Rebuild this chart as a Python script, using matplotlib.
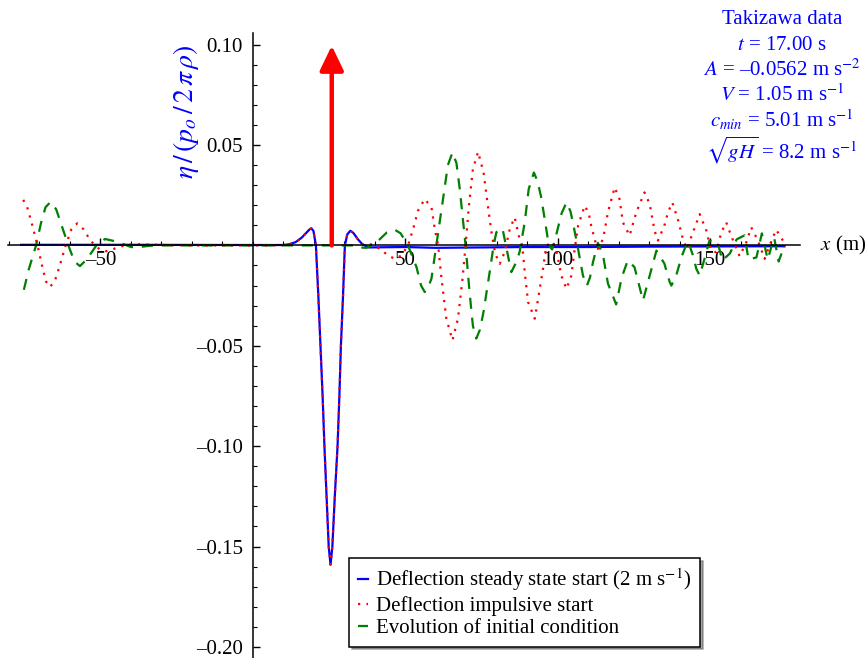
import matplotlib
matplotlib.use("Agg")
import matplotlib.pyplot as plt
from matplotlib.ticker import MultipleLocator, FixedLocator

plt.rcParams['font.family'] = ['Liberation Serif', 'DejaVu Serif']
plt.rcParams['mathtext.fontset'] = 'stix'

# curve shared by blue and red near the load (x, eta)
dip_x = [10, 12, 14, 16, 17.5, 18.5, 19.2, 19.9, 20.7, 21.5, 22.2, 22.9, 23.5, 24.2, 24.9,
         25.5, 26.1, 26.9, 27.8, 28.4, 28.9, 29.6, 30.2, 31, 32, 33, 34.5, 36]
dip_y = [0.0002, 0.0006, 0.0016, 0.0038, 0.0062, 0.0078, 0.0085, 0.0072, 0.0, -0.025, -0.05,
         -0.075, -0.10, -0.125, -0.15, -0.159, -0.15, -0.125, -0.10, -0.075, -0.05, -0.025,
         0.0, 0.0055, 0.0073, 0.0062, 0.003, 0.0005]

# steady state start (blue)
blue_left_x = [-76, -40, 0, 8]
blue_left_y = [0.0003, 0.0003, 0.0002, 0.0002]
blue_right_x = [38, 50, 60, 75, 90, 110, 130, 150, 174.4]
blue_right_y = [-0.001, -0.0008, -0.0012, -0.001, -0.0008, -0.0008, -0.0006, -0.0005, -0.0004]

# impulsive start (red)
red_left_x = [-75.3, -74, -72.5, -70.6, -69, -67.8, -66.6, -65, -63.3, -61.4, -59.5, -57.6,
              -55.5, -53.5, -51.8, -50, -48, -46, -44.2, -41, -37, -30, -20, 8]
red_left_y = [0.0227, 0.019, 0.011, 0.0, -0.011, -0.018, -0.0207, -0.018, -0.01, 0.0, 0.008,
              0.011, 0.008, 0.003, 0.0, -0.0022, -0.0029, -0.002, -0.0009, 0.0004, 0.0006,
              0.0002, 0.0, 0.0]
red_right_x = [37, 39.5, 41.6, 44.4, 46.6, 48.8, 50.9, 52.6, 54.2, 56.4, 58.6, 59.7, 60.8,
               61.9, 63.5, 65.5, 67.3, 68.8, 69.8, 70.9, 72.2, 73.9, 75.7, 77.1, 78.3, 79.5,
               81.0, 82.6, 84.3, 85.9, 87.5, 88.4, 89.2, 90.3, 92.5, 94.1, 95.2, 96.3, 98.5,
               99.6, 101.2, 102.9, 104.5, 105.6, 106.7, 108.9, 110.2, 111, 112.7, 113.2,
               114.9, 116.5, 118.7, 120.3, 121.4, 123.6, 125.8, 128.5, 130.2, 131.8, 132.9,
               135, 136.2, 137.6, 139.4, 141.1, 142.4, 144.4, 146.6, 148.8, 150.4, 152,
               153.7, 155.3, 156.9, 159.7, 161.9, 163.5, 165.7, 167.9, 169.5, 171.7, 173.9,
               174.4]
red_right_y = [0.001, 0.0003, -0.0017, -0.005, -0.0067, -0.005, 0.0, 0.0082, 0.0173, 0.0231,
               0.019, 0.0082, 0.0, -0.0166, -0.0365, -0.0472, -0.0365, -0.0166, 0.0, 0.0198,
               0.038, 0.0466, 0.0363, 0.0198, 0.0066, -0.004, -0.0092, -0.0034, 0.0082, 0.014,
               0.0032, 0.0, -0.0133, -0.0282, -0.0365, -0.0216, -0.0117, 0.0, 0.0016, -0.0026,
               -0.015, -0.0216, -0.015, -0.0017, 0.0098, 0.0198, 0.016, 0.0098, 0.0, -0.0017,
               0.0032, 0.0165, 0.0289, 0.0231, 0.0115, 0.0049, 0.0165, 0.0264, 0.0206, 0.0073,
               0.0024, 0.0098, 0.0165, 0.0214, 0.0132, 0.0032, -0.0017, 0.0066, 0.0156, 0.0073,
               -0.0026, -0.0034, 0.0066, 0.0115, 0.0049, -0.0054, 0.0016, 0.009, 0.0024,
               -0.0067, 0.0, 0.0078, 0.0024, -0.001]

# evolution of initial condition (green)
green_x = [-75.1, -73.5, -71.1, -69.5, -68, -66.3, -64.5, -62.5, -60.5, -58.5, -56.7, -54.5,
           -51.3, -48.5, -45.5, -42.5, -40, -37.6, -34, -30, 0, 33, 34.4, 37.4, 39.5, 41.6,
           44, 46.6, 48.5, 50.9, 53.7, 55.2, 56.4, 57.5, 58.6, 60.2, 62.4, 64, 65.5, 66.8,
           67.9, 69.8, 71.1, 72.2, 73.3, 74.5, 75.7, 77.7, 79.0, 79.9, 81.9, 84.8, 86.2,
           87.5, 89.2, 90.5, 92.2, 93.4, 94.6, 96.1, 97.1, 98.2, 99.6, 101.3, 102.9, 104.2,
           105, 106.7, 108.3, 109.6, 110.6, 111.6, 113.2, 114.9, 116.5, 119.2, 121, 123,
           125.2, 128, 130.2, 132.4, 135, 136.7, 137.3, 138.9, 140.6, 142.7, 144.4, 145.5,
           146.6, 148.3, 149.8, 152.5, 154, 156.5, 158.7, 161.3, 162.6, 165.2, 167, 168.9,
           171, 172.5, 174.4]
green_y = [-0.0221, -0.012, 0.0, 0.011, 0.019, 0.0217, 0.018, 0.009, 0.0, -0.008, -0.0103,
           -0.007, 0.0, 0.0032, 0.0022, 0.0007, -0.0008, -0.0009, -0.0002, 0.0, 0.0, 0.0,
           -0.001, -0.0012, 0.0005, 0.003, 0.0065, 0.0078, 0.006, 0.0, -0.0108, -0.02,
           -0.0232, -0.021, -0.0166, 0.0, 0.0231, 0.040, 0.0463, 0.041, 0.028, 0.0, -0.0232,
           -0.040, -0.0464, -0.042, -0.033, -0.0133, 0.0, 0.0066, 0.0085, -0.0133, -0.009,
           -0.0034, 0.0115, 0.028, 0.0363, 0.032, 0.024, 0.0098, 0.0, -0.002, 0.0057, 0.016,
           0.0214, 0.017, 0.0115, -0.0017, -0.015, -0.02, -0.016, -0.0083, 0.0013, -0.005,
           -0.019, -0.0294, -0.016, -0.0075, -0.0108, -0.0274, -0.015, -0.0026, -0.009,
           -0.018, -0.02, -0.015, -0.0059, 0.0024, -0.005, -0.0117, -0.015, -0.006, 0.0024,
           0.0016, -0.0075, -0.004, 0.003, 0.005, -0.007, -0.006, 0.006, -0.007, 0.004,
           -0.008, 0.0]

load_x = 25.9      # load position (arrow)
load_h = 0.0995

x_major = [-50, 50, 100, 150]
x_labels = ["\u201350", "50", "100", "150"]
y_major = [-0.20, -0.15, -0.10, -0.05, 0.05, 0.10]
y_labels = ["\u20130.20", "\u20130.15", "\u20130.10", "\u20130.05", "0.05", "0.10"]

info_lines = [
    "Takizawa data",
    r"$t$ = 17.00 s",
    "$A$ = \u20130.0562 m s$^{-2}$",
    r"$V$ = 1.05 m s$^{-1}$",
    r"$c_{min}$ = 5.01 m s$^{-1}$",
    r"$\sqrt{gH}$ = 8.2 m s$^{-1}$",
]

legend_labels = [
    r"Deflection steady state start (2 m s$^{-1}$)",
    "Deflection impulsive start",
    "Evolution of initial condition",
]

fig = plt.figure(figsize=(8.66, 6.58), dpi=100)
ax = fig.add_axes([8 / 866, 0, 792 / 866, 625 / 658])

blue_x = blue_left_x + dip_x + blue_right_x
blue_y = blue_left_y + dip_y + blue_right_y
red_x = red_left_x + dip_x + red_right_x
red_y = red_left_y + dip_y + red_right_y

l1, = ax.plot(blue_x, blue_y, color="#0000ff", lw=1.6, zorder=2)
l2, = ax.plot(red_x, red_y, color="#ff0000", lw=1.6, ls=(0, (1, 2.8)), zorder=2.2)
l3, = ax.plot(green_x, green_y, color="#007f00", lw=1.6, ls=(0, (5, 4)), zorder=2.1)

ax.annotate("", xy=(load_x, load_h), xytext=(load_x, 0),
            arrowprops=dict(arrowstyle="-|>,head_length=0.75,head_width=0.36",
                            color="#ff0000", lw=3.2, mutation_scale=20,
                            shrinkA=0, shrinkB=0),
            zorder=5)

ax.set_xlim(-80.3, 179.5)
ax.set_ylim(-0.2055, 0.1058)

for s in ["top", "right"]:
    ax.spines[s].set_visible(False)
ax.spines["left"].set_position(("data", 0))
ax.spines["bottom"].set_position(("data", 0))
ax.spines["left"].set_linewidth(1.1)
ax.spines["bottom"].set_linewidth(1.1)
ax.spines["left"].set_zorder(3)
ax.spines["bottom"].set_zorder(3)

ax.xaxis.set_major_locator(FixedLocator(x_major))
ax.set_xticklabels(x_labels)
ax.xaxis.set_minor_locator(MultipleLocator(10))
ax.yaxis.set_major_locator(FixedLocator(y_major))
ax.set_yticklabels(y_labels)
ax.yaxis.set_minor_locator(MultipleLocator(0.01))

ax.tick_params(which="major", direction="in", length=5, width=1.0, labelsize=15)
ax.tick_params(which="minor", direction="in", length=3, width=0.8)
ax.tick_params(axis="x", which="major", pad=4)
ax.tick_params(axis="y", which="major", pad=7)

fig.text(186 / 866, 1 - 112 / 658, r"$\eta\,/\,(p_o\,/\,2\,\pi\,\rho)$", rotation=90,
         ha="center", va="center", fontsize=20, color="#0000ff")
fig.text(843 / 866, 1 - 245 / 658, r"$x$ (m)", ha="center", va="center", fontsize=15)

info_y = [19, 45, 70, 95, 120, 150]
for txt, yy in zip(info_lines, info_y):
    fig.text(782 / 866, 1 - yy / 658, txt, ha="center", va="center",
             fontsize=15, color="#0000ff")

leg = ax.legend([l1, l2, l3], legend_labels, loc="upper left",
                bbox_to_anchor=(349 / 866, 1 - 558 / 658), bbox_transform=fig.transFigure,
                borderaxespad=0, fontsize=15, handlelength=0.5, handletextpad=0.4,
                labelspacing=0.12, borderpad=0.42, fancybox=False, shadow=True,
                framealpha=1)
leg.get_frame().set_edgecolor("black")
leg.get_frame().set_linewidth(1.1)

fig.savefig("out.png", dpi=100)
